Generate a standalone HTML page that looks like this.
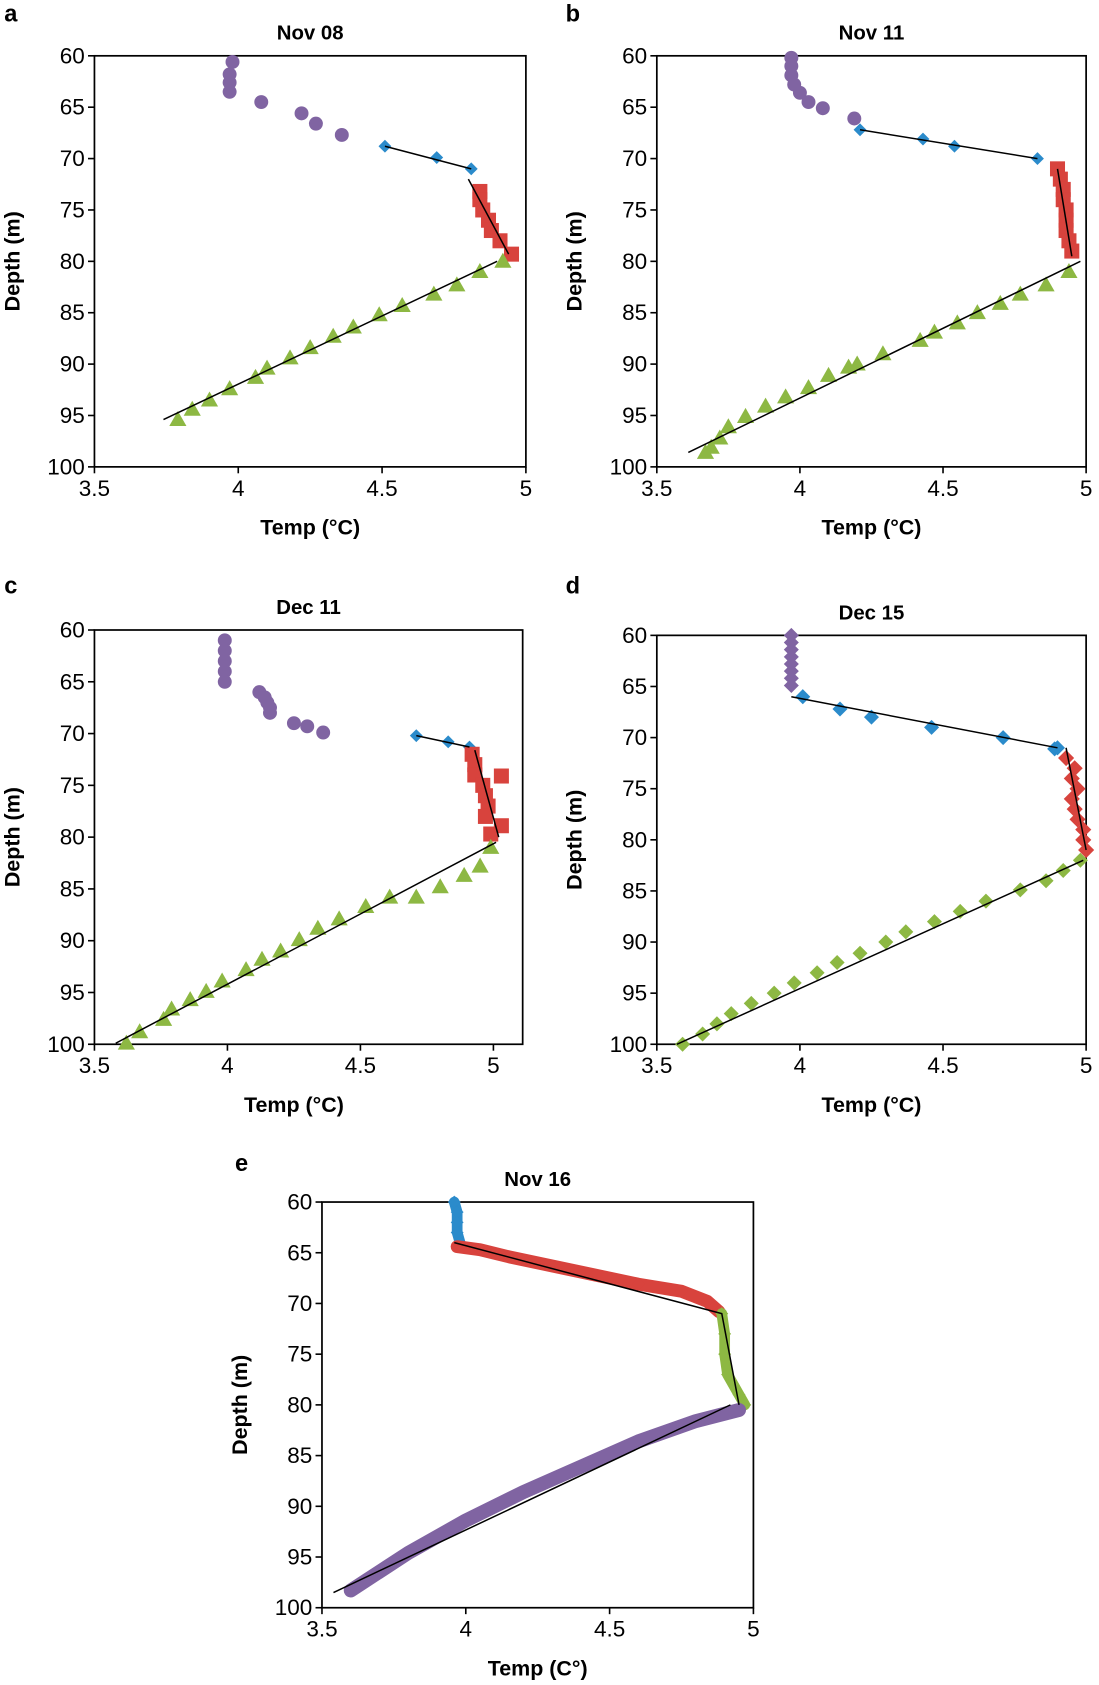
<!DOCTYPE html>
<html><head><meta charset="utf-8"><style>
html,body{margin:0;padding:0;background:#fff}
svg{display:block}
text{font-family:"Liberation Sans",sans-serif;fill:#000}
</style></head><body>
<svg id="fig" width="1099" height="1685" viewBox="0 0 1024 1570" xmlns="http://www.w3.org/2000/svg"></svg>
<script>
// ---- Panel a (Nov 08)
const aPurple=[[3.98,60.6],[3.97,61.8],[3.97,62.6],[3.97,63.5],[4.08,64.5],[4.22,65.6],[4.27,66.6],[4.36,67.7]];
const aBlue=[[4.51,68.8],[4.69,69.9],[4.81,71]];
const aRed=[[4.84,73.2],[4.84,74],[4.85,75],[4.87,76],[4.88,77],[4.91,78],[4.95,79.3]];
const aGreen=[[4.92,80],[4.84,81],[4.76,82.3],[4.68,83.2],[4.57,84.3],[4.49,85.2],[4.40,86.4],[4.33,87.3],[4.25,88.4],[4.18,89.4],[4.10,90.4],[4.06,91.3],[3.97,92.4],[3.90,93.5],[3.84,94.4],[3.79,95.4]];
const aLines=[[[4.51,68.8],[4.81,71]],[[4.80,72],[4.94,79.3]],[[3.74,95.4],[4.90,80]]];
// ---- Panel b (Nov 11)
const bPurple=[[3.97,60.2],[3.97,61],[3.97,61.9],[3.98,62.8],[4.00,63.6],[4.03,64.5],[4.08,65.1],[4.19,66.1]];
const bBlue=[[4.21,67.2],[4.43,68.1],[4.54,68.8],[4.83,70]];
const bRed=[[4.90,71],[4.91,72],[4.92,73],[4.92,74],[4.93,75],[4.93,76],[4.93,77],[4.94,78],[4.95,79]];
const bGreen=[[4.94,81],[4.86,82.3],[4.77,83.2],[4.70,84.1],[4.62,85],[4.55,86],[4.47,86.9],[4.42,87.7],[4.29,89],[4.20,90],[4.17,90.3],[4.10,91.1],[4.03,92.3],[3.95,93.2],[3.88,94.1],[3.81,95.1],[3.75,96.1],[3.72,97.2],[3.69,98.1],[3.67,98.6]];
const bLines=[[[4.21,67.2],[4.83,70]],[[4.90,71],[4.95,79.5]],[[3.61,98.6],[4.98,80]]];
// ---- Panel c (Dec 11)
const cPurple=[[3.99,61],[3.99,62],[3.99,63],[3.99,64],[3.99,65],[4.12,66],[4.14,66.5],[4.15,67],[4.16,67.5],[4.16,68],[4.25,69],[4.30,69.3],[4.36,69.9]];
const cBlue=[[4.71,70.2],[4.83,70.8],[4.91,71.3]];
const cRed=[[4.92,72],[4.93,73],[4.93,74],[5.03,74.1],[4.96,75],[4.97,76],[4.98,77],[4.97,78],[5.03,78.9],[4.99,79.7]];
const cGreen=[[4.99,81],[4.95,82.8],[4.89,83.7],[4.80,84.8],[4.71,85.8],[4.61,85.8],[4.52,86.7],[4.42,87.9],[4.34,88.8],[4.27,89.9],[4.20,91],[4.13,91.8],[4.07,92.8],[3.98,93.9],[3.92,94.9],[3.86,95.7],[3.79,96.6],[3.76,97.6],[3.67,98.8],[3.62,99.9]];
const cLines=[[[4.71,70.2],[4.91,71.3]],[[4.93,71.6],[5.02,80]],[[3.58,99.9],[5.01,80.5]]];
// ---- Panel d (Dec 15)
const dPurple=[[3.97,60],[3.97,60.7],[3.97,61.4],[3.97,62.1],[3.97,62.8],[3.97,63.5],[3.97,64.2],[3.97,64.9]];
const dBlue=[[4.01,66],[4.14,67.2],[4.25,68],[4.46,69],[4.71,70],[4.89,71.1],[4.90,71]];
const dRed=[[4.93,72],[4.96,73],[4.95,74],[4.97,75],[4.95,76],[4.96,77],[4.97,78],[4.99,79],[4.99,80],[5.00,81]];
const dGreen=[[4.98,82],[4.92,83],[4.86,84],[4.77,84.9],[4.65,86],[4.56,87],[4.47,88],[4.37,89],[4.30,90],[4.21,91.1],[4.13,92],[4.06,93],[3.98,94],[3.91,95],[3.83,96],[3.76,97],[3.71,98],[3.66,99],[3.59,100]];
const dLines=[[[3.97,66],[4.90,71]],[[4.93,71],[5.00,81]],[[3.57,100],[4.99,82]]];
// ---- Panel e (Nov 16)
const eBlue=[[3.96,60],[3.97,61],[3.97,62],[3.97,63],[3.98,64]];
const eRed=[[3.97,64.4],[4.05,64.7],[4.15,65.4],[4.30,66.3],[4.45,67.2],[4.60,68.1],[4.75,68.8],[4.84,69.8],[4.88,70.8]];
const eGreen=[[4.89,71],[4.90,73],[4.90,75],[4.91,77],[4.95,79],[4.97,80]];
const ePurple=[[4.95,80.5],[4.80,81.6],[4.60,83.6],[4.40,86.1],[4.20,88.6],[4.00,91.4],[3.80,94.6],[3.60,98.3]];
const eLines=[[[3.96,64],[4.89,71],[4.95,80]],[[3.54,98.5],[4.92,80]]];

const xTicks=[3.5,4,4.5,5];
const yTicks=[60,65,70,75,80,85,90,95,100];
const COL={purple:'#8064A2',blue:'#2B8BCB',red:'#D8433D',green:'#8DB843'};
const NS='http://www.w3.org/2000/svg';
const svg=document.getElementById('fig');
function mk(tag,attrs,parent){const e=document.createElementNS(NS,tag);for(const k in attrs)e.setAttribute(k,attrs[k]);(parent||svg).appendChild(e);return e;}

function panel(p){
  const g=mk('g',{});
  
  
  const sx=t=>p.x0+(t-3.5)/(p.xmax-3.5)*(p.x1-p.x0);
  const sy=d=>p.y0+(d-60)/40*(p.y1-p.y0);
  const fr=mk('rect',{x:p.x0,y:p.y0,width:p.x1-p.x0,height:p.y1-p.y0,fill:'none',stroke:'#000','stroke-width':1.6},g);
  
  
  yTicks.forEach(v=>{
    mk('line',{x1:p.x0-6,x2:p.x0,y1:sy(v),y2:sy(v),stroke:'#000','stroke-width':1.5},g);
    const t=mk('text',{x:p.x0-9,y:sy(v)+7,'text-anchor':'end','font-size':21},g);
    
    
    t.textContent=v;
  });
  xTicks.forEach(v=>{
    mk('line',{x1:sx(v),x2:sx(v),y1:p.y1,y2:p.y1+6,stroke:'#000','stroke-width':1.5},g);
    const t=mk('text',{x:sx(v),y:p.y1+27,'text-anchor':'middle','font-size':21},g);
    
    
    t.textContent=v;
  });
  const tt=mk('text',{x:(p.x0+p.x1)/2,y:p.y0-15,'text-anchor':'middle','font-size':19,'font-weight':'bold'},g);
  
  
  tt.textContent=p.title;
  const lt=mk('text',{x:p.lx,y:p.ly,'font-size':22,'font-weight':'bold'},g);
  
  
  lt.textContent=p.id;
  const yl=mk('text',{x:0,y:0,'text-anchor':'middle','font-size':20,'font-weight':'bold',transform:`translate(${p.x0-70},${(p.y0+p.y1)/2}) rotate(-90)`},g);
  
  
  yl.textContent='Depth (m)';
  const xl=mk('text',{x:(p.x0+Math.min(p.x1,sx(5)))/2,y:p.y1+63,'text-anchor':'middle','font-size':20,'font-weight':'bold'},g);
  
  
  xl.textContent=p.xlabel;
  p.series.forEach(s=>{
    const sg=mk('g',{fill:COL[s.c]},g);
    
    
    if(s.thick){
      mk('polyline',{points:s.d.map(q=>sx(q[0])+','+sy(q[1])).join(' '),fill:'none',stroke:COL[s.c],'stroke-width':s.thick,'stroke-linejoin':'round','stroke-linecap':'round'},sg);
    }
    const r=s.r||6;
    s.d.forEach(q=>{
      const x=sx(q[0]),y=sy(q[1]);let m;
      if(s.m==='circle')m=mk('circle',{cx:x,cy:y,r:6.5},sg);
      else if(s.m==='square')m=mk('rect',{x:x-7,y:y-7,width:14,height:14},sg);
      else if(s.m==='tri')m=mk('polygon',{points:`${x},${y-8} ${x+8},${y+6} ${x-8},${y+6}`},sg);
      else m=mk('polygon',{points:`${x},${y-r} ${x+r},${y} ${x},${y+r} ${x-r},${y}`},sg);
      
      
    });
  });
  p.lines.forEach(L=>{
    const l=mk('polyline',{points:L.map(q=>sx(q[0])+','+sy(q[1])).join(' '),fill:'none',stroke:'#000','stroke-width':1.4},g);
    
    
  });
}
panel({id:'a',title:'Nov 08',xlabel:'Temp (°C)',x0:88,x1:490,xmax:5,y0:52,y1:435,lx:4,ly:20,
  series:[{c:'purple',m:'circle',d:aPurple},{c:'blue',m:'diamond',d:aBlue},{c:'red',m:'square',d:aRed},{c:'green',m:'tri',d:aGreen}],lines:aLines});
panel({id:'b',title:'Nov 11',xlabel:'Temp (°C)',x0:612,x1:1012,xmax:5,y0:52,y1:435,lx:527,ly:20,
  series:[{c:'purple',m:'circle',d:bPurple},{c:'blue',m:'diamond',d:bBlue},{c:'red',m:'square',d:bRed},{c:'green',m:'tri',d:bGreen}],lines:bLines});
panel({id:'c',title:'Dec 11',xlabel:'Temp (°C)',x0:88,x1:487,xmax:5.11,y0:587,y1:973,lx:4,ly:553,
  series:[{c:'purple',m:'circle',d:cPurple},{c:'blue',m:'diamond',d:cBlue},{c:'red',m:'square',d:cRed},{c:'green',m:'tri',d:cGreen}],lines:cLines});
panel({id:'d',title:'Dec 15',xlabel:'Temp (°C)',x0:612,x1:1012,xmax:5,y0:592,y1:973,lx:527,ly:553,
  series:[{c:'purple',m:'diamond',r:7,d:dPurple},{c:'blue',m:'diamond',r:7,d:dBlue},{c:'red',m:'diamond',r:7.5,d:dRed},{c:'green',m:'diamond',r:7,d:dGreen}],lines:dLines});
panel({id:'e',title:'Nov 16',xlabel:'Temp (C°)',x0:300,x1:702,xmax:5,y0:1120,y1:1498,lx:219,ly:1091,
  series:[{c:'blue',m:'diamond',d:eBlue,thick:10},{c:'red',m:'diamond',d:eRed,thick:12},{c:'green',m:'diamond',d:eGreen,thick:10},{c:'purple',m:'diamond',d:ePurple,thick:13}],lines:eLines});
</script>
</body></html>
